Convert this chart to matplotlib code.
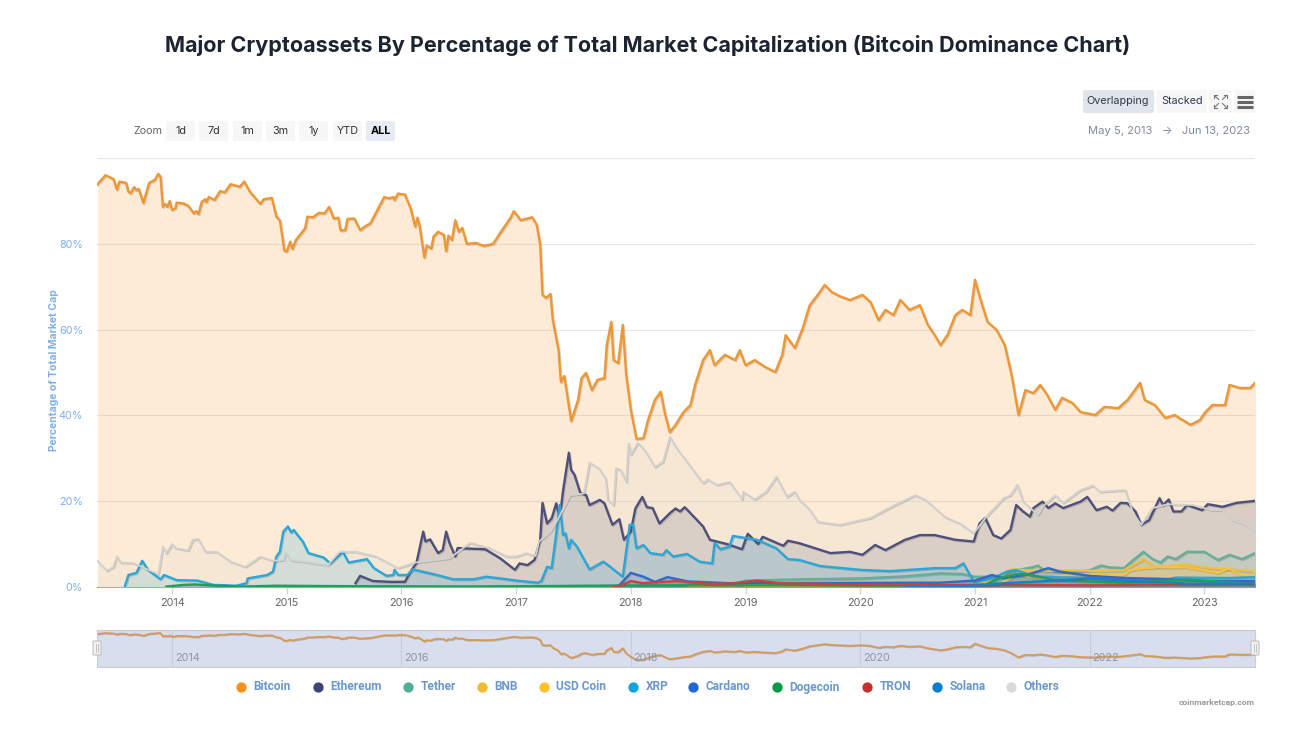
import matplotlib
matplotlib.use('Agg')
import matplotlib.pyplot as plt
import matplotlib.patheffects as pe
from matplotlib.patches import FancyBboxPatch

# values: decimal years and % of total market cap
btc_x = [2013.35,2013.42,2013.49,2013.52,2013.54,2013.60,2013.62,2013.64,2013.67,2013.69,2013.71,2013.75,2013.80,2013.85,2013.88,2013.90,2013.92,2013.94,2013.96,2013.98,
         2014.00,2014.03,2014.04,2014.10,2014.14,2014.19,2014.21,2014.23,2014.26,2014.29,2014.30,2014.32,2014.37,2014.42,2014.46,2014.51,2014.59,2014.63,2014.68,2014.77,2014.80,2014.87,2014.91,2014.94,2014.98,
         2015.00,2015.03,2015.05,2015.08,2015.16,2015.18,2015.23,2015.28,2015.33,2015.37,2015.41,2015.45,2015.47,2015.51,2015.53,2015.59,2015.64,2015.68,2015.73,2015.81,2015.85,2015.89,2015.93,2015.94,2015.97,
         2016.03,2016.08,2016.12,2016.14,2016.16,2016.20,2016.22,2016.26,2016.28,2016.32,2016.37,2016.39,2016.41,2016.44,2016.47,2016.50,2016.53,2016.57,2016.65,2016.72,2016.80,2016.86,2016.95,2016.98,
         2017.04,2017.14,2017.18,2017.21,2017.23,2017.26,2017.30,2017.32,2017.37,2017.39,2017.42,2017.48,2017.54,2017.57,2017.61,2017.66,2017.71,2017.77,2017.79,2017.83,2017.85,2017.89,2017.93,2017.96,
         2018.00,2018.05,2018.11,2018.15,2018.21,2018.26,2018.30,2018.34,2018.39,2018.46,2018.52,2018.56,2018.63,2018.69,2018.73,2018.82,2018.91,2018.95,
         2019.00,2019.08,2019.17,2019.26,2019.32,2019.35,2019.43,2019.50,2019.56,2019.63,2019.69,2019.75,2019.82,2019.91,
         2020.02,2020.09,2020.16,2020.22,2020.29,2020.35,2020.43,2020.52,2020.59,2020.65,2020.70,2020.76,2020.83,2020.89,2020.96,
         2021.00,2021.05,2021.11,2021.19,2021.26,2021.32,2021.38,2021.44,2021.51,2021.57,2021.63,2021.70,2021.76,2021.85,2021.92,
         2022.05,2022.13,2022.25,2022.33,2022.44,2022.48,2022.57,2022.66,2022.74,2022.88,2022.96,2023.01,2023.07,2023.18,2023.22,2023.31,2023.40,2023.45]
btc_y = [93.9,96.0,95.1,92.6,94.5,94.2,92.1,91.8,93.2,92.5,92.8,89.5,94.2,94.9,96.3,95.6,88.6,89.3,88.6,90.0,
         87.9,88.3,89.6,89.4,88.9,87.1,87.6,86.9,89.8,90.4,89.7,90.9,90.2,92.3,92.0,93.9,93.3,94.5,92.1,89.3,90.4,90.7,86.3,85.5,78.4,
         78.2,80.5,78.8,80.9,83.6,86.3,86.2,87.2,87.1,88.6,85.9,86.1,83.1,83.2,85.8,85.9,83.2,84.0,84.8,88.9,90.9,90.6,90.9,90.2,91.7,
         91.5,88.3,84.0,86.1,84.0,76.8,79.6,78.9,81.7,82.8,82.1,78.3,81.9,80.9,85.5,82.8,83.7,80.0,80.2,79.5,80.0,82.5,86.0,87.6,
         85.5,86.2,84.4,79.7,68.1,67.4,68.3,62.2,55.2,47.8,49.2,38.7,43.6,48.7,49.9,45.9,48.3,48.7,56.4,61.8,52.9,52.2,61.1,49.4,
         41.3,34.5,34.7,38.9,43.6,45.5,40.1,36.1,37.8,40.8,42.4,47.1,52.9,55.2,51.7,54.1,52.9,55.2,
         51.7,52.9,51.3,50.1,54.1,58.7,55.7,60.4,65.7,68.1,70.4,68.8,67.8,66.9,
         68.1,66.4,62.2,64.6,63.4,66.9,64.6,65.7,61.1,58.7,56.4,58.7,63.4,64.6,63.4,
         71.6,66.9,61.8,59.9,56.4,49.4,40.1,45.9,45.2,47.1,44.8,41.3,44.1,42.9,40.8,
         40.1,42.0,41.7,43.6,47.6,43.6,42.4,39.4,40.1,37.8,38.9,40.8,42.4,42.4,47.1,46.4,46.4,47.8]

eth_x = [2015.60,2015.64,2015.75,2015.90,2016.03,2016.09,2016.13,2016.19,2016.21,2016.25,2016.32,2016.36,2016.39,2016.42,2016.47,2016.49,2016.55,2016.73,2016.86,2016.99,
         2017.03,2017.10,2017.16,2017.21,2017.23,2017.27,2017.31,2017.35,2017.38,2017.41,2017.46,2017.48,2017.51,2017.56,2017.61,2017.64,2017.73,2017.77,2017.84,2017.90,2017.94,
         2018.00,2018.04,2018.10,2018.14,2018.19,2018.25,2018.34,2018.39,2018.43,2018.47,2018.57,2018.63,2018.69,2018.84,2018.97,
         2019.02,2019.11,2019.15,2019.33,2019.37,2019.47,2019.60,2019.74,2019.91,2020.02,2020.13,2020.22,2020.39,2020.52,2020.65,2020.83,2020.99,
         2021.04,2021.09,2021.16,2021.23,2021.31,2021.36,2021.42,2021.48,2021.51,2021.59,2021.64,2021.70,2021.77,2021.92,2021.98,
         2022.06,2022.15,2022.20,2022.27,2022.33,2022.40,2022.45,2022.52,2022.61,2022.64,2022.69,2022.73,2022.80,2022.85,2022.98,
         2023.03,2023.16,2023.28,2023.45]
eth_y = [0.9,2.6,1.4,1.2,1.2,4.0,5.5,12.9,10.6,11.1,7.9,8.6,12.9,10.2,7.1,9.1,9.0,8.8,6.7,4.0,
         5.5,5.1,6.3,11.0,19.6,14.8,16.0,19.5,16.0,22.6,31.3,27.3,26.1,21.9,21.4,19.1,20.3,19.5,14.5,15.8,11.0,
         12.9,18.3,21.0,18.6,18.4,14.8,17.2,18.3,17.6,18.6,15.8,14.1,11.0,10.0,8.8,
         12.4,10.0,11.7,9.6,10.8,10.2,9.1,7.9,8.2,7.5,9.8,8.6,11.0,12.1,12.1,11.0,10.6,
         14.8,16.1,12.1,11.3,13.3,19.1,17.6,16.4,18.4,19.9,18.4,19.5,18.4,19.9,21.0,
         17.9,18.7,17.8,19.6,19.5,17.6,14.5,15.6,20.7,19.1,20.4,17.6,17.6,19.1,17.9,
         19.3,18.7,19.6,20.1]

usdt_x = [2015.20,2017.50,2018.00,2018.90,2019.00,2019.50,2020.00,2020.40,2020.70,2020.90,2021.00,2021.20,2021.36,2021.50,2021.55,2021.60,2021.80,
          2022.00,2022.10,2022.17,2022.30,2022.38,2022.47,2022.55,2022.62,2022.68,2022.75,2022.85,2023.00,2023.12,2023.22,2023.33,2023.45]
usdt_y = [0.1,0.1,0.3,0.8,1.5,1.8,2.0,2.5,3.2,3.0,2.4,2.4,3.9,4.6,5.0,3.9,3.2,
          3.9,5.0,4.6,4.4,6.3,8.2,6.5,5.7,7.1,6.5,8.2,8.2,6.3,7.5,6.5,8.0]

bnb_x = [2018.50,2019.50,2020.50,2021.00,2021.10,2021.20,2021.31,2021.55,2021.85,2022.10,2022.30,2022.47,2022.57,2022.85,2023.05,2023.42,2023.45]
bnb_y = [0.2,0.7,0.8,0.6,1.0,2.0,4.1,3.7,3.9,3.7,3.9,6.5,4.7,5.2,4.4,3.7,3.2]

usdc_x = [2019.00,2020.50,2021.00,2021.20,2021.36,2021.60,2021.80,2022.30,2022.35,2022.47,2022.60,2022.85,2023.00,2023.12,2023.22,2023.30,2023.45]
usdc_y = [0.1,0.3,0.5,0.5,2.8,2.0,2.8,2.8,3.9,4.4,4.6,4.6,3.9,3.3,4.4,2.8,2.6]

xrp_x = [2013.59,2013.62,2013.69,2013.74,2013.79,2013.90,2013.93,2014.04,2014.22,2014.36,2014.56,2014.65,2014.66,2014.83,2014.88,2014.91,2014.94,2014.97,
         2015.01,2015.04,2015.06,2015.14,2015.19,2015.32,2015.38,2015.49,2015.54,2015.70,2015.76,2015.87,2015.93,2015.94,2015.97,
         2016.05,2016.10,2016.31,2016.45,2016.63,2016.74,2016.92,2017.00,2017.19,2017.22,2017.27,2017.31,2017.35,2017.38,2017.41,2017.43,2017.46,2017.48,2017.53,2017.64,2017.76,2017.82,2017.93,2017.99,
         2018.02,2018.05,2018.11,2018.17,2018.28,2018.31,2018.37,2018.49,2018.60,2018.71,2018.73,2018.78,2018.86,2018.89,
         2019.10,2019.27,2019.37,2019.47,2019.65,2020.00,2020.26,2020.43,2020.65,2020.83,2020.90,2020.99,
         2021.16,2021.28,2021.36,2021.50,2021.80,2022.30,2022.70,2022.75,2023.20,2023.45]
xrp_y = [0.3,2.8,3.3,6.1,4.0,1.8,2.8,1.6,1.5,0.5,0.3,0.9,2.0,2.8,3.6,7.1,8.2,12.9,
         14.1,12.7,13.3,10.6,7.9,6.9,5.5,8.2,5.7,6.5,4.4,2.6,2.8,4.0,2.8,
         2.8,4.1,2.8,1.8,1.8,2.4,1.8,1.5,1.0,1.4,4.7,4.4,12.5,19.1,12.1,12.5,9.0,11.0,9.4,4.1,5.9,4.7,2.4,14.5,
         14.5,9.0,9.8,7.9,7.5,8.6,7.1,7.7,5.9,5.5,10.3,8.8,9.4,11.9,
         11.0,9.0,6.5,6.3,4.9,4.0,3.7,4.0,4.4,4.4,5.5,1.2,
         2.1,3.6,4.0,2.5,2.2,1.8,1.9,2.2,2.1,2.3]

ada_x = [2017.85,2017.90,2018.00,2018.11,2018.21,2018.32,2018.50,2018.84,2019.47,2020.50,2020.70,2021.00,2021.15,2021.25,2021.45,2021.64,2021.74,2022.00,2022.30,2022.60,2023.00,2023.45]
ada_y = [0.1,0.4,3.3,2.4,1.2,2.3,1.3,0.9,0.9,1.0,1.0,1.5,2.8,2.1,2.8,4.4,3.6,2.6,2.1,1.9,1.4,1.4]

doge_x = [2013.95,2014.10,2014.20,2014.40,2014.60,2014.90,2015.50,2016.50,2017.20,2017.60,2018.50,2019.50,2020.50,2021.00,2021.10,2021.20,2021.36,2021.45,2021.70,2022.30,2022.85,2023.45]
doge_y = [0.1,0.5,0.6,0.3,0.1,0.3,0.2,0.1,0.2,0.3,0.4,0.4,0.3,0.5,0.6,2.0,3.0,3.0,1.6,1.0,1.7,0.8]

trx_x = [2017.85,2017.90,2018.00,2018.10,2018.40,2018.70,2018.90,2019.10,2019.30,2019.50,2020.00,2021.00,2022.00,2022.50,2023.45]
trx_y = [0.1,0.2,1.4,0.9,1.4,0.7,0.9,1.5,0.9,0.8,0.5,0.5,0.4,0.5,0.6]

sol_x = [2020.40,2021.00,2021.20,2021.70,2022.00,2022.30,2022.85,2023.45]
sol_y = [0.0,0.3,0.8,1.5,2.0,1.5,0.8,0.8]

others_x = [2013.35,2013.43,2013.49,2013.52,2013.55,2013.66,2013.76,2013.88,2013.92,2013.95,2014.00,2014.03,2014.14,2014.18,2014.23,2014.29,2014.39,2014.51,2014.64,2014.77,2014.88,2014.97,2014.99,
            2015.03,2015.17,2015.36,2015.46,2015.61,2015.78,2015.97,2016.12,2016.42,2016.60,2016.77,2016.92,2017.00,2017.09,2017.17,2017.20,2017.30,2017.37,2017.47,2017.59,2017.64,2017.72,2017.78,2017.80,2017.85,2017.87,2017.91,2017.96,2017.98,
            2018.00,2018.06,2018.12,2018.21,2018.28,2018.34,2018.40,2018.50,2018.63,2018.67,2018.75,2018.86,2018.97,2018.98,
            2019.08,2019.18,2019.27,2019.36,2019.43,2019.47,2019.56,2019.63,2019.82,2020.09,2020.30,2020.48,2020.57,2020.74,2020.87,2020.99,
            2021.10,2021.25,2021.31,2021.37,2021.42,2021.55,2021.59,2021.70,2021.77,2021.92,2022.03,2022.09,2022.31,2022.38,2022.45,2022.55,2022.68,2022.90,2023.07,2023.16,2023.25,2023.37,2023.45]
others_y = [6.1,3.8,4.7,7.2,5.7,5.6,4.4,3.0,9.4,7.9,10.0,9.1,8.5,11.0,11.2,8.2,8.2,5.9,4.7,7.1,6.1,6.3,8.0,
            6.3,5.8,5.1,8.2,8.2,7.1,4.4,5.7,6.7,10.3,9.0,7.1,7.1,7.9,7.2,10.6,12.9,16.0,21.4,21.8,29.0,27.7,25.3,20.3,19.1,27.7,27.3,24.5,33.5,
            30.8,33.6,31.9,28.0,29.2,35.0,32.3,28.8,24.2,25.1,23.8,24.5,20.4,22.2,
            20.4,22.2,25.7,21.0,22.2,20.3,18.0,15.2,14.5,16.1,19.1,21.4,20.3,16.3,14.8,12.5,
            16.4,20.7,21.4,23.8,19.9,16.8,18.7,21.4,19.6,22.6,23.6,22.2,22.6,17.2,14.5,18.4,19.3,19.1,17.9,17.9,15.6,14.5,12.9]

names = ['Bitcoin', 'Ethereum', 'Tether', 'BNB', 'USD Coin', 'XRP', 'Cardano', 'Dogecoin', 'TRON', 'Solana', 'Others']
xs = [btc_x, eth_x, usdt_x, bnb_x, usdc_x, xrp_x, ada_x, doge_x, trx_x, sol_x, others_x]
ys = [btc_y, eth_y, usdt_y, bnb_y, usdc_y, xrp_y, ada_y, doge_y, trx_y, sol_y, others_y]
colors = ['#F7931A', '#3E4574', '#50AF95', '#F3BA2F', '#FFC02A', '#0FA6E0', '#2068D8', '#009A44', '#C8302A', '#007ED0', '#D9D9D9']
line_colors = ['#EE9733', '#4F4F7C', '#63B097', '#EDBF45', '#F5C23F', '#28A7D8', '#3269C8', '#1FA05A', '#C9423E', '#1980C8', '#D2D2D2']

year_ticks = list(range(2014, 2024))
nav_years = [2014, 2016, 2018, 2020, 2022]
pct_ticks = [0, 20, 40, 60, 80]
zoom_labels = ['1d', '7d', '1m', '3m', '1y', 'YTD', 'ALL']
legend_dot_x = [241, 318, 408, 482, 544, 633, 693, 777, 867, 937, 1011]

W, H = 1300, 730
FONT = ['Inter', 'DejaVu Sans']
plt.rcParams['font.family'] = FONT
fig = plt.figure(figsize=(W / 100, H / 100), dpi=100)


def px_axes(left, top, right, bottom):
    return fig.add_axes([left / W, 1 - bottom / H, (right - left) / W, (bottom - top) / H])


XLIM = (2013.346, 2023.442)

# main chart
ax = px_axes(97, 158, 1255, 587)
ax.set_xlim(*XLIM)
ax.set_ylim(0, 100)
for i in range(len(names)):
    ax.fill_between(xs[i], ys[i], 0, color=colors[i], alpha=0.18, lw=0, zorder=2 + i * 0.1)
    ax.plot(xs[i], ys[i], color=line_colors[i], lw=1.3 if names[i] == 'Others' else 1.7, zorder=3 + i * 0.1,
            solid_joinstyle='round',
            path_effects=[pe.SimpleLineShadow(offset=(0.7, -0.7), shadow_color='#555555', alpha=0.25), pe.Normal()])
ax.set_yticks(pct_ticks + [100])
ax.set_yticklabels([f'{p}%' for p in pct_ticks] + [''], fontsize=7.8, color='#7CB0EE')
ax.set_xticks(year_ticks)
ax.set_xticklabels([str(y) for y in year_ticks], fontsize=7.8, color='#666666')
ax.tick_params(axis='y', length=0, pad=10)
ax.tick_params(axis='x', length=5, width=1, color='#CCD6EB', pad=3)
ax.grid(axis='y', color='#E6E6E6', lw=0.8, zorder=1)
ax.set_axisbelow(True)
for s in ['top', 'left', 'right']:
    ax.spines[s].set_visible(False)
ax.spines['bottom'].set_color('#7FB2DE')
ax.set_ylabel('Percentage of Total Market Cap', fontsize=7.5, color='#7CB0EE', fontweight='bold', labelpad=0, y=0.506)

# navigator
nav = px_axes(97, 630, 1255, 667)
nav.set_xlim(*XLIM)
nav.set_ylim(18, 103)
nav.set_facecolor('#D9DEEE')
nav.plot(btc_x, btc_y, color='#D79B57', lw=1.3,
         path_effects=[pe.SimpleLineShadow(offset=(0.5, -0.5), shadow_color='#555555', alpha=0.3), pe.Normal()])
for y in nav_years:
    nav.axvline(y, color='#C6CBDD', lw=0.8, zorder=0)
    nav.annotate(str(y), (y, 0), xycoords=('data', 'axes fraction'), xytext=(2, 3), textcoords='offset points',
                 fontsize=7.8, color='#8E93A6', va='bottom', ha='left', zorder=5)
nav.set_xticks([])
nav.set_yticks([])
for s in nav.spines.values():
    s.set_color('#CCCCCC')

# overlay for title, buttons, legend, in pixel coords
ov = fig.add_axes([0, 0, 1, 1], zorder=10)
ov.set_xlim(0, W)
ov.set_ylim(H, 0)
ov.axis('off')
ov.patch.set_alpha(0)

ov.text(648, 45, 'Major Cryptoassets By Percentage of Total Market Capitalization (Bitcoin Dominance Chart)',
        ha='center', va='center', fontsize=15.5, fontweight='bold', color='#1C2431')


def button(x0, x1, y0, y1, fc):
    ov.add_patch(FancyBboxPatch((x0 + 2, y0 + 2), x1 - x0 - 4, y1 - y0 - 4, boxstyle='round,pad=2', fc=fc, ec='none'))


ov.text(133, 131, 'Zoom', fontsize=7.8, color='#666666', va='center')
zoom_x = [(166, 195), (199, 228), (233, 262), (266, 295), (299, 328), (333, 362), (366, 395)]
for lab, (x0, x1) in zip(zoom_labels, zoom_x):
    active = lab == 'ALL'
    button(x0, x1, 121, 141, '#E6EBF5' if active else '#F7F7F7')
    ov.text((x0 + x1) / 2, 131, lab, ha='center', va='center', fontsize=7.8,
            color='#000000' if active else '#333333', fontweight='bold' if active else 'normal')

button(1083, 1154, 90, 113, '#E0E5EB')
ov.text(1118, 101.5, 'Overlapping', ha='center', va='center', fontsize=7.8, color='#2F3A4F')
button(1157, 1207, 90, 113, '#F7F7F7')
ov.text(1182, 101.5, 'Stacked', ha='center', va='center', fontsize=7.8, color='#2F3A4F')
button(1209, 1232, 90, 113, '#F7F7F7')
button(1234, 1255, 90, 113, '#F7F7F7')
# expand icon
for sx, sy in [(-1, -1), (1, -1), (-1, 1), (1, 1)]:
    ov.plot([1220.5 + sx * 2, 1220.5 + sx * 6], [101.5 + sy * 2, 101.5 + sy * 6], color='#777777', lw=0.8)
    ov.plot([1220.5 + sx * 3.5, 1220.5 + sx * 6.5, 1220.5 + sx * 6.5], [101.5 + sy * 6.5, 101.5 + sy * 6.5, 101.5 + sy * 3.5],
            color='#777777', lw=0.8)
for yy in [96.5, 101.5, 106.5]:
    ov.plot([1237, 1252.5], [yy, yy], color='#666666', lw=2.2, solid_capstyle='butt')

ov.text(1250, 131, 'May 5, 2013   →   Jun 13, 2023', ha='right', va='center', fontsize=8.1, color='#7D8CA0')

# navigator handles
for hx in [97, 1255]:
    ov.add_patch(FancyBboxPatch((hx - 3, 642), 6, 12, boxstyle='round,pad=1', fc='#F2F2F2', ec='#BBBBBB', lw=0.7))
    ov.plot([hx - 1, hx - 1], [644, 652], color='#BBBBBB', lw=0.6)
    ov.plot([hx + 1, hx + 1], [644, 652], color='#BBBBBB', lw=0.6)

# legend
for name, col, lx in zip(names, colors, legend_dot_x):
    ov.scatter([lx], [687], s=55, color=col, lw=0)
    ov.text(lx + 12.5, 687, name, va='center', ha='left', fontsize=8.6, color='#6A97CD', fontweight='bold',
            family=['Roboto', 'DejaVu Sans'])

ov.text(1255, 703, 'coinmarketcap.com', ha='right', va='center', fontsize=6.1, color='#999999', fontweight='bold',
        family=['Roboto', 'DejaVu Sans'])

fig.savefig('out.png', dpi=100)
